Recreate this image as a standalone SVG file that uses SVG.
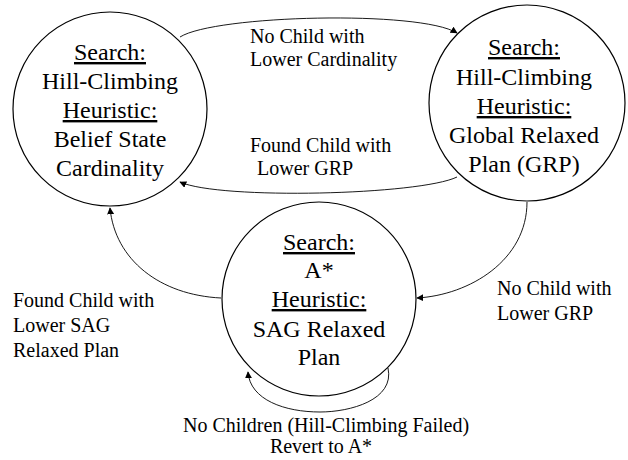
<svg xmlns="http://www.w3.org/2000/svg" width="628" height="460" viewBox="0 0 628 460" font-family="Liberation Serif, Times New Roman, serif">
<style>
.ring{fill:#fff;stroke:#000;stroke-width:1.2}
.edge{fill:none;stroke:#000;stroke-width:0.9}
</style>
<defs>
<marker id="ah" viewBox="0 0 10 10" refX="9" refY="5" markerWidth="7" markerHeight="7" markerUnits="userSpaceOnUse" orient="auto">
<path d="M0,0 L10,5 L0,10 z" fill="#000"/>
</marker>
</defs>
<rect width="628" height="460" fill="#fff"/>
<g id="connectors">
<path class="edge" marker-end="url(#ah)" d="M180,37 C215,15 420,10 457,33"/>
<path class="edge" marker-end="url(#ah)" d="M457,177 C420,195 220,200 180,182"/>
<path class="edge" marker-end="url(#ah)" d="M527,202 C527,260 470,295 417,298"/>
<path class="edge" marker-end="url(#ah)" d="M221,298 C160,295 115,260 110,208"/>
<path class="edge" marker-end="url(#ah)" d="M388,368 C395,400 350,412 320,412 C285,412 250,400 248,372"/>
</g>
<g id="node-cardinality" font-size="24" text-anchor="middle">
<circle class="ring" cx="110" cy="109" r="97"/>
<text font-family="Liberation Serif" text-decoration="underline" x="110" y="60">Search:</text>
<text font-family="Liberation Serif" x="110" y="89">Hill-Climbing</text>
<text font-family="Liberation Serif" text-decoration="underline" x="110" y="118">Heuristic:</text>
<text font-family="Liberation Serif" x="110" y="147">Belief State</text>
<text font-family="Liberation Serif" x="110" y="176">Cardinality</text>
</g>
<g id="node-grp" font-size="24" text-anchor="middle">
<circle class="ring" cx="527" cy="103" r="98"/>
<text font-family="Liberation Serif" text-decoration="underline" x="524" y="55">Search:</text>
<text font-family="Liberation Serif" x="524" y="85">Hill-Climbing</text>
<text font-family="Liberation Serif" text-decoration="underline" x="524" y="114">Heuristic:</text>
<text font-family="Liberation Serif" x="524" y="143">Global Relaxed</text>
<text font-family="Liberation Serif" x="524" y="172">Plan (GRP)</text>
</g>
<g id="node-sag" font-size="24" text-anchor="middle">
<circle class="ring" cx="319" cy="299" r="97"/>
<text font-family="Liberation Serif" text-decoration="underline" x="319" y="250">Search:</text>
<text font-family="Liberation Serif" x="319" y="278">A*</text>
<text font-family="Liberation Serif" text-decoration="underline" x="319" y="307">Heuristic:</text>
<text font-family="Liberation Serif" x="319" y="337">SAG Relaxed</text>
<text font-family="Liberation Serif" x="319" y="365">Plan</text>
</g>
<g id="labels" font-size="20">
<text font-family="Liberation Serif" x="250" y="43">No Child with</text>
<text font-family="Liberation Serif" x="250" y="66">Lower Cardinality</text>
<text font-family="Liberation Serif" x="250" y="152">Found Child with</text>
<text font-family="Liberation Serif" x="257" y="175">Lower GRP</text>
<text font-family="Liberation Serif" x="13" y="307">Found Child with</text>
<text font-family="Liberation Serif" x="13" y="332">Lower SAG</text>
<text font-family="Liberation Serif" x="13" y="357">Relaxed Plan</text>
<text font-family="Liberation Serif" x="497" y="295">No Child with</text>
<text font-family="Liberation Serif" x="497" y="320">Lower GRP</text>
<text font-family="Liberation Serif" x="326" y="432" text-anchor="middle">No Children (Hill-Climbing Failed)</text>
<text font-family="Liberation Serif" x="321" y="453" text-anchor="middle">Revert to A*</text>
</g>
</svg>
